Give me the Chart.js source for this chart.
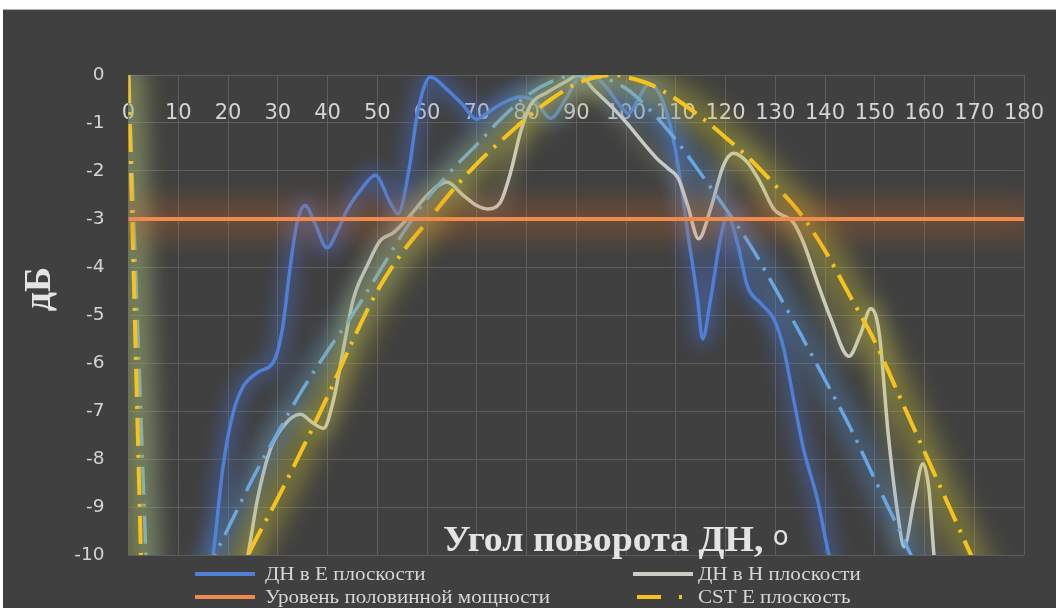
<!DOCTYPE html>
<html>
<head>
<meta charset="utf-8">
<script src="https://cdn.jsdelivr.net/npm/chart.js@4/dist/chart.umd.min.js"></script>
<style>
  html, body { margin: 0; padding: 0; background: #ffffff; overflow: hidden; }
  #frame { position: absolute; left: 3px; top: 10px; width: 1053px; height: 598px; background: #404040; box-shadow: 0 -1px 0 #b0b0b0; }
  canvas { display: block; }
</style>
</head>
<body>
<div id="frame"><canvas id="chart" width="1053" height="598"></canvas></div>
<script>
// Measured pattern, E plane (angle in degrees, level in dB)
const eAngles = [14, 17, 19, 21, 23, 25.9, 29.5, 31, 32.5, 33.9, 35.5, 37.5, 39.9, 42, 44, 47, 49.6, 52.6, 54.2, 56.5, 58, 60.7, 64, 67, 70, 72, 75, 78.8, 82, 84.8, 88, 90.5, 93, 96, 98.5, 100.5, 102.5, 104.5, 106.5, 108.5, 110, 111, 112.4, 114.4, 115.4, 117, 119, 120.4, 122.4, 124.4, 127, 129.7, 131.7, 133.7, 135.7, 138.5, 140.8, 143];
const eValues = [-11.8, -10, -8.16, -7.05, -6.5, -6.2, -5.9, -5.25, -4.0, -3.07, -2.72, -3.1, -3.6, -3.25, -2.8, -2.35, -2.09, -2.66, -2.89, -1.9, -0.84, -0.04, -0.3, -0.6, -0.92, -0.8, -0.6, -0.46, -0.57, -0.9, -0.48, -0.05, 0, -0.25, -0.6, -0.8, -0.5, -0.2, -0.35, -0.9, -1.6, -2.24, -3.28, -4.67, -5.5, -4.67, -3.4, -2.93, -3.5, -4.4, -4.75, -5.08, -5.7, -6.76, -7.8, -8.85, -10, -10.8];

// Measured pattern, H plane
const hAngles = [21, 24, 25.9, 28.5, 31.1, 34.5, 37.1, 39.2, 41.2, 43.2, 45.2, 48, 50.6, 53.2, 56.6, 60, 64, 67.3, 70, 72.1, 74.7, 76.8, 78.8, 80.8, 84.2, 88.2, 90.5, 93.5, 97.5, 100.3, 103.5, 106.3, 108.5, 110.5, 112.4, 114.6, 117, 119.6, 121.6, 124.4, 127, 129.7, 133.7, 135.7, 138.5, 141.2, 144.8, 147.2, 149.2, 150.9, 152.7, 154.7, 155.9, 157.9, 159.7, 160.9, 161.9, 163];
const hValues = [-11.2, -10, -8.85, -7.8, -7.32, -7.07, -7.25, -7.36, -6.77, -5.7, -4.67, -3.97, -3.45, -3.29, -2.93, -2.51, -2.23, -2.51, -2.72, -2.79, -2.66, -2.03, -1.19, -0.63, -0.36, -0.12, 0, -0.3, -0.7, -1.02, -1.42, -1.75, -1.95, -2.15, -2.72, -3.41, -2.79, -1.88, -1.63, -1.82, -2.24, -2.79, -3.08, -3.5, -4.33, -5.08, -5.86, -5.38, -4.87, -5.38, -7.47, -9.2, -9.83, -8.85, -8.1, -8.64, -10, -11];

// Half-power level
const halfAngles = [0, 180];
const halfValues = [-3, -3];

// CST simulation, E plane: leading piece at 0°, then the main lobe
const cstELeadAngles = [0, 5];
const cstELeadValues = [0, -20];
const cstEAngles = [20, 25, 30, 35, 40, 45, 50, 55, 60, 65, 70, 75, 80, 85, 90, 95, 98, 100, 105, 110, 115, 120, 125, 130, 135, 140, 145, 150, 155, 160, 165, 170, 175];
const cstEValues = [-10.9, -9.8, -8.82, -7.78, -6.7, -5.55, -4.5, -3.7, -3.06, -2.42, -1.85, -1.36, -0.9, -0.5, -0.18, -0.02, 0, -0.04, -0.2, -0.5, -0.87, -1.3, -1.76, -2.3, -2.88, -3.66, -4.6, -5.55, -6.7, -7.85, -9.0, -10.15, -11.3];

// CST simulation, H plane
const cstHLeadAngles = [0, 5];
const cstHLeadValues = [0, -14.3];
const cstHAngles = [15, 20, 25, 30, 35, 40, 45, 50, 55, 60, 65, 70, 75, 80, 85, 90, 95, 100, 105, 110, 115, 120, 125, 130, 135, 140, 145, 150, 155, 160];
const cstHValues = [-10.5, -9.45, -8.4, -7.45, -6.55, -5.75, -5.0, -4.17, -3.32, -2.58, -1.98, -1.45, -0.9, -0.44, -0.14, 0, -0.05, -0.28, -0.75, -1.35, -2.05, -2.78, -3.55, -4.45, -5.38, -6.35, -7.33, -8.42, -9.5, -10.6];

const legendLabels = ['ДН в Е плоскости', 'ДН в Н плоскости', 'Уровень половинной мощности', 'CST E плоскость'];
const xTitle = 'Угол поворота ДН, ';
const yTitle = 'дБ';

const toPoints = (xs, ys) => xs.map((x, i) => ({ x: x, y: ys[i] }));
const withLead = (lx, ly, xs, ys) =>
  toPoints(lx, ly).concat([{ x: (lx[lx.length - 1] + xs[0]) / 2, y: null }], toPoints(xs, ys));

const COLORS = {
  e: '#4f7fd6',
  h: '#cdcdc6',
  half: '#ef8a4e',
  cstE: '#f6c31e',
  cstH: '#69a6e2'
};

const datasets = [
  {
    label: legendLabels[2], data: toPoints(halfAngles, halfValues),
    borderColor: COLORS.half, borderWidth: 4, order: 0,
    glow: { color: 'rgba(215,105,40,0.30)', width: 34, blur: 14 }
  },
  {
    label: legendLabels[3], data: withLead(cstELeadAngles, cstELeadValues, cstEAngles, cstEValues),
    borderColor: COLORS.cstE, borderWidth: 4, borderDash: [28, 9, 3, 9], order: 1,
    glow: { color: 'rgba(205,195,50,0.45)', width: 28, blur: 13 }
  },
  {
    label: 'CST H плоскость', data: withLead(cstHLeadAngles, cstHLeadValues, cstHAngles, cstHValues),
    borderColor: COLORS.cstH, borderWidth: 3.5, borderDash: [28, 9, 3, 9], order: 2,
    glow: { color: 'rgba(85,145,215,0.42)', width: 22, blur: 11 }
  },
  {
    label: legendLabels[1], data: toPoints(hAngles, hValues),
    borderColor: COLORS.h, borderWidth: 3.5, order: 3,
    glow: { color: 'rgba(150,150,110,0.32)', width: 16, blur: 9 }
  },
  {
    label: legendLabels[0], data: toPoints(eAngles, eValues),
    borderColor: COLORS.e, borderWidth: 3.5, order: 4,
    glow: { color: 'rgba(75,115,215,0.45)', width: 16, blur: 9 }
  }
];
datasets.forEach(d => Object.assign(d, {
  showLine: true, pointRadius: 0, pointHoverRadius: 0,
  cubicInterpolationMode: 'monotone', spanGaps: false, fill: false,
  borderCapStyle: 'butt', borderJoinStyle: 'round'
}));

// Soft halo under each curve, following the element's own path
const glowPlugin = {
  id: 'glow',
  beforeDatasetDraw(chart, args) {
    const ds = chart.data.datasets[args.index];
    if (!ds.glow || !args.meta.dataset) return;
    const ctx = chart.ctx, a = chart.chartArea;
    ctx.save();
    ctx.beginPath();
    ctx.rect(a.left, a.top, a.right - a.left, a.bottom - a.top);
    ctx.clip();
    ctx.filter = 'blur(' + ds.glow.blur + 'px)';
    ctx.strokeStyle = ds.glow.color;
    ctx.lineWidth = ds.glow.width;
    ctx.lineJoin = 'round';
    ctx.lineCap = 'round';
    ctx.beginPath();
    args.meta.dataset.path(ctx);
    ctx.stroke();
    ctx.restore();
  }
};

// Text drawn slightly widened, as in the original layout
function wideText(ctx, text, x, y, sx) {
  ctx.save();
  ctx.translate(x, y);
  ctx.scale(sx, 1);
  ctx.fillText(text, 0, 0);
  const w = ctx.measureText(text).width * sx;
  ctx.restore();
  return w;
}

// Axis titles and the two-column legend
const decorPlugin = {
  id: 'decor',
  afterDraw(chart) {
    const ctx = chart.ctx;
    ctx.save();
    // horizontal title, sits inside the plot near the bottom
    ctx.fillStyle = '#e4e4e4';
    ctx.font = 'bold 36px "Liberation Serif", "DejaVu Serif", serif';
    ctx.textBaseline = 'alphabetic';
    ctx.textAlign = 'left';
    const tw = wideText(ctx, xTitle, 440, 541, 1.05);
    ctx.font = '26px "DejaVu Sans", sans-serif';
    ctx.fillText('o', 440 + tw, 535);

    // vertical title
    ctx.save();
    ctx.translate(37, 279);
    ctx.rotate(-Math.PI / 2);
    ctx.font = 'bold 38px "Liberation Serif", "DejaVu Serif", serif';
    ctx.textAlign = 'center';
    ctx.textBaseline = 'middle';
    ctx.fillText(yTitle, 0, 0);
    ctx.restore();

    // legend
    const items = [
      { text: legendLabels[0], color: COLORS.e, x: 192, tx: 262, y: 564, kind: 'solid' },
      { text: legendLabels[1], color: COLORS.h, x: 630, tx: 695, y: 564, kind: 'solid' },
      { text: legendLabels[2], color: COLORS.half, x: 192, tx: 262, y: 587, kind: 'solid' },
      { text: legendLabels[3], color: COLORS.cstE, x: 630, tx: 695, y: 587, kind: 'dashdot' }
    ];
    ctx.font = '19.5px "Liberation Serif", "DejaVu Serif", serif';
    ctx.textBaseline = 'middle';
    ctx.textAlign = 'left';
    items.forEach(it => {
      ctx.strokeStyle = it.color;
      ctx.lineWidth = 4;
      ctx.beginPath();
      if (it.kind === 'solid') {
        ctx.moveTo(it.x, it.y);
        ctx.lineTo(it.x + 60, it.y);
      } else {
        ctx.moveTo(it.x + 4, it.y);
        ctx.lineTo(it.x + 28, it.y);
        ctx.moveTo(it.x + 46, it.y);
        ctx.lineTo(it.x + 49, it.y);
      }
      ctx.stroke();
      ctx.fillStyle = '#d6d6d6';
      wideText(ctx, it.text, it.tx, it.y + 1, 1.08);
    });
    ctx.restore();
  }
};

const GRID = '#5d5d5d';
const TICK = '#d4d4d4';

new Chart(document.getElementById('chart'), {
  type: 'scatter',
  data: { datasets },
  options: {
    responsive: false,
    animation: false,
    events: [],
    layout: { padding: { top: 65, right: 32, bottom: 53, left: 0 } },
    plugins: { legend: { display: false }, tooltip: { enabled: false }, title: { display: false } },
    scales: {
      x: {
        type: 'linear',
        position: { y: 0 },
        min: 0, max: 180,
        ticks: {
          stepSize: 10, color: TICK, padding: 0,
          font: { family: '"DejaVu Sans", sans-serif', size: 21 },
          maxRotation: 0, autoSkip: false
        },
        // invisible tick marks push the labels below the 0 dB line
        grid: { color: GRID, lineWidth: 1, drawTicks: true, tickLength: 26, tickColor: 'rgba(0,0,0,0)' },
        border: { color: GRID, width: 1 }
      },
      y: {
        type: 'linear',
        position: 'left',
        min: -10, max: 0,
        ticks: {
          stepSize: 1, color: TICK, padding: 24,
          font: { family: '"DejaVu Sans", sans-serif', size: 18.5 }
        },
        grid: { color: GRID, lineWidth: 1, drawTicks: false },
        border: { color: GRID, width: 1 },
        afterFit(scale) { scale.width = 125.5; }
      }
    }
  },
  plugins: [glowPlugin, decorPlugin]
});
</script>
</body>
</html>
